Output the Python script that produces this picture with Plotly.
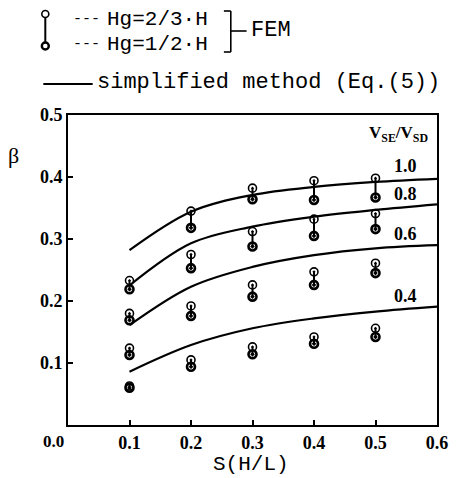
import plotly.graph_objects as go

S = [0.1, 0.2, 0.3, 0.4, 0.5]
S_curve = [0.1, 0.2, 0.3, 0.4, 0.5, 0.6]
ratios = ["1.0", "0.8", "0.6", "0.4"]

# FEM results, Hg = 2/3 H (upper) and Hg = 1/2 H (lower)
fem_23_r10 = [0.233, 0.345, 0.382, 0.394, 0.398]
fem_12_r10 = [0.219, 0.318, 0.364, 0.363, 0.367]
fem_23_r08 = [0.180, 0.275, 0.312, 0.332, 0.341]
fem_12_r08 = [0.169, 0.253, 0.288, 0.305, 0.316]
fem_23_r06 = [0.124, 0.192, 0.226, 0.247, 0.261]
fem_12_r06 = [0.113, 0.176, 0.207, 0.226, 0.245]
fem_23_r04 = [0.063, 0.105, 0.126, 0.142, 0.156]
fem_12_r04 = [0.060, 0.094, 0.114, 0.131, 0.142]

# simplified method (Eq.(5))
eq5_r10 = [0.282, 0.344, 0.371, 0.384, 0.392, 0.397]
eq5_r08 = [0.225, 0.293, 0.320, 0.336, 0.347, 0.356]
eq5_r06 = [0.161, 0.223, 0.255, 0.274, 0.285, 0.290]
eq5_r04 = [0.086, 0.129, 0.156, 0.172, 0.183, 0.191]

label_y = [0.418, 0.373, 0.308, 0.208]

fem_upper = [fem_23_r10, fem_23_r08, fem_23_r06, fem_23_r04]
fem_lower = [fem_12_r10, fem_12_r08, fem_12_r06, fem_12_r04]
curves = [eq5_r10, eq5_r08, eq5_r06, eq5_r04]

fig = go.Figure()

for c in curves:
    fig.add_trace(go.Scatter(x=S_curve, y=c, mode="lines",
                             line=dict(color="black", width=2.2, shape="spline"),
                             showlegend=False, hoverinfo="skip"))

for up, lo in zip(fem_upper, fem_lower):
    xs, ys = [], []
    for s, a, b in zip(S, up, lo):
        xs += [s, s, None]
        ys += [a, b, None]
    fig.add_trace(go.Scatter(x=xs, y=ys, mode="lines",
                             line=dict(color="black", width=2),
                             showlegend=False, hoverinfo="skip"))
    fig.add_trace(go.Scatter(x=S, y=up, mode="markers",
                             marker=dict(symbol="circle-open-dot", size=8, color="black",
                                         line=dict(width=1.6, color="black")),
                             showlegend=False))
    fig.add_trace(go.Scatter(x=S, y=lo, mode="markers",
                             marker=dict(symbol="circle-open-dot", size=8, color="black",
                                         line=dict(width=2.6, color="black")),
                             showlegend=False))

serif = "Liberation Serif"
mono = "Liberation Mono"

for r, ly in zip(ratios, label_y):
    fig.add_annotation(x=0.549, y=ly, text=r, showarrow=False,
                       font=dict(family=serif, size=18, color="black", weight="bold"))
fig.add_annotation(x=0.538, y=0.469, text="V<sub>SE</sub>/V<sub>SD</sub>", showarrow=False,
                   font=dict(family=serif, size=17, color="black", weight="bold"))

fig.add_annotation(x=0, y=0, text="0.0", showarrow=False, xshift=-15, yshift=-16,
                   font=dict(family=serif, size=17, color="black", weight="bold"))


# screen pixel -> paper coordinates (plot area spans x 68..442, y 115..425 on screen)
def px(xp):
    return (xp - 68) / 374


def py(yp):
    return (425 - yp) / 310


def label(x, y, text, size, family, xanchor="center"):
    fig.add_annotation(xref="paper", yref="paper", x=px(x), y=py(y), text=text, showarrow=False,
                       xanchor=xanchor, yanchor="middle",
                       font=dict(family=family, size=size, color="black"))


label(13, 155, "β", 22, serif)
label(253, 465, "S(H/L)", 21, mono)

# Legend
fig.add_shape(type="line", xref="paper", yref="paper", x0=px(45), x1=px(45), y0=py(15), y1=py(45),
              line=dict(color="black", width=2))
for yy, w in [(14, 1.6), (46, 2.4)]:
    fig.add_shape(type="circle", xref="paper", yref="paper", xsizemode="pixel", ysizemode="pixel",
                  xanchor=px(45), yanchor=py(yy), x0=-3.5, x1=3.5, y0=-3.5, y1=3.5,
                  line=dict(color="black", width=w), fillcolor="white")
label(71, 19, "---", 15, mono, "left")
label(106, 19, "Hg=2/3·H", 21, mono, "left")
label(71, 44, "---", 15, mono, "left")
label(106, 44, "Hg=1/2·H", 21, mono, "left")
# bracket
for (xa, ya), (xb, yb) in [((226, 11), (233, 11)), ((233, 11), (233, 52)), ((226, 52), (233, 52)),
                           ((233, 31), (249, 31))]:
    fig.add_shape(type="line", xref="paper", yref="paper", x0=px(xa), x1=px(xb), y0=py(ya), y1=py(yb),
                  line=dict(color="black", width=1.6))
label(251, 31, "FEM", 22, mono, "left")
fig.add_shape(type="line", xref="paper", yref="paper", x0=px(43), x1=px(93), y0=py(84), y1=py(84),
              line=dict(color="black", width=2))
label(95, 82, "simplified method (Eq.(5))", 22, mono, "left")

axis_common = dict(showline=True, linecolor="black", linewidth=2, mirror=True,
                   ticks="inside", ticklen=5, tickwidth=1.5, tickcolor="black",
                   showgrid=False, zeroline=False,
                   tickfont=dict(family=serif, size=18, color="black", weight="bold"))

fig.update_xaxes(range=[0, 0.6], tickvals=[0.1, 0.2, 0.3, 0.4, 0.5, 0.6],
                 ticktext=["0.1", "0.2", "0.3", "0.4", "0.5", "0.6"], **axis_common)
fig.update_yaxes(range=[0, 0.5], tickvals=[0.1, 0.2, 0.3, 0.4, 0.5],
                 ticktext=["0.1", "0.2", "0.3", "0.4", "0.5"], **axis_common)

# page body has an 8px margin; size the figure so the plot area lands at x 68..442, y 115..425
fig.update_layout(width=452, height=470, margin=dict(l=60, r=18, t=107, b=53),
                  plot_bgcolor="white", paper_bgcolor="white", showlegend=False)

fig.write_html("out.html")
